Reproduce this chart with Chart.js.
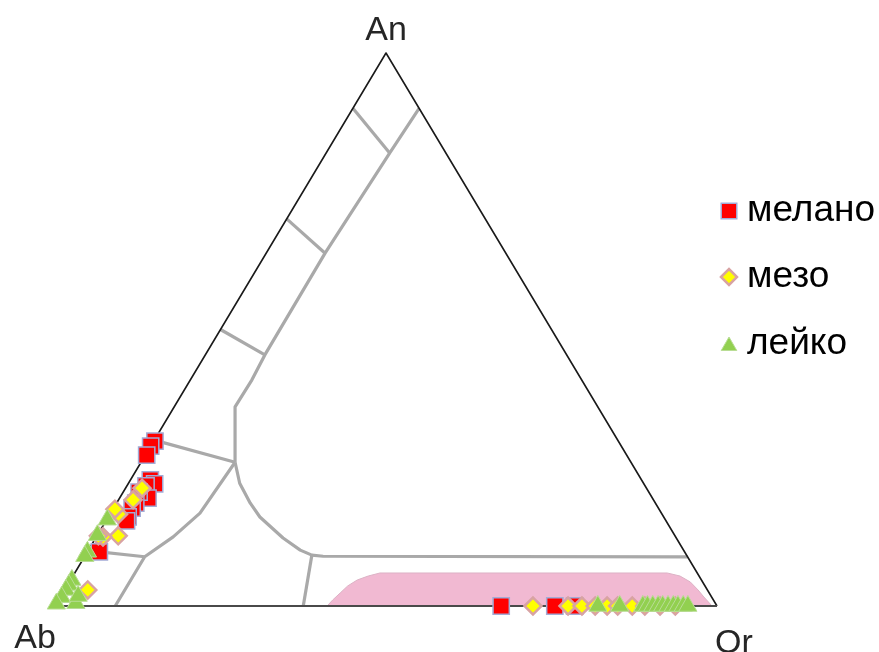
<!DOCTYPE html>
<html>
<head>
<meta charset="utf-8">
<script src="https://cdn.jsdelivr.net/npm/chart.js@4/dist/chart.umd.min.js"></script>
<style>
  html, body { margin: 0; padding: 0; background: #ffffff; }
  canvas { display: block; }
</style>
</head>
<body>
<canvas id="chart" width="879" height="652"></canvas>
<script>
// Vertex labels of the An–Ab–Or feldspar triangle
const vertexLabels = ['An', 'Ab', 'Or'];
const seriesNames = ['мелано', 'мезо', 'лейко'];

// Compositions, mol %: An and Or of each analysis (Ab = 100 - An - Or)
const melanoAn = [29.8, 28.9, 27.3, 22.8, 22.1, 21.7, 19.5, 20.6, 18.6, 17.7, 16.1, 15.4, 9.8, 0, 0, 0];
const melanoOr = [0.2, 0.0, 0.2, 3.0, 4.0, 2.9, 4.3, 2.4, 2.9, 2.8, 3.0, 3.1, 1.8, 67.4, 75.5, 78.5];

const mezoAn = [21.3, 19.2, 16.6, 17.5, 12.7, 12.5, 12.7, 2.9, 0, 0, 0, 0, 0, 0, 0, 0, 0, 0];
const mezoOr = [2.5, 2.2, 1.3, 0.3, 3.2, 1.0, 0.2, 3.5, 72.2, 77.5, 79.6, 81.6, 83.4, 85.0, 87.2, 89.1, 91.4, 93.7];

const leikoAn = [15.6, 12.8, 9.8, 9.0, 4.7, 3.8, 2.9, 1.6, 0.4, 0.5, 1.8, 0, 0, 0, 0, 0, 0, 0, 0, 0, 0, 0, 0];
const leikoOr = [0.1, 0.0, 0.0, 0.0, 0.2, 0.2, 0.2, 0.2, 0.0, 2.9, 2.6, 82.0, 85.3, 88.8, 89.5, 90.3, 91.1, 91.8, 92.6, 93.4, 94.1, 94.9, 95.6];

// Field boundaries of the classification, as [An, Or] vertices
const boundaryLines = [
  [[90, 0], [81.9, 9.6]],
  [[90, 10], [81.9, 9.6], [63.8, 8.9], [45.4, 9.0], [40.9, 9.3], [36.0, 9.2], [26.0, 14.2]],
  [[70, 0], [63.8, 8.9]],
  [[50, 0], [45.4, 9.0]],
  [[30, 0], [26.0, 14.2]],
  [[26.0, 14.2], [16.8, 13.5], [12.5, 11.6], [8.9, 9.1], [0, 9.1]],
  [[10, 0], [8.9, 9.1]],
  [[26.0, 14.2], [22.2, 16.8], [18.6, 20.2], [16.1, 22.9], [12.3, 28.3], [10.1, 32.0], [9.2, 34.2], [9.0, 36.0], [8.9, 91.1]],
  [[9.2, 34.2], [0, 37.5]]
];

// Shaded alkali-feldspar field outline, [An, Or]
const shadedField = [
  [0, 41.1], [1.08, 41.4], [2.35, 41.9], [3.62, 42.4], [4.7, 43.3], [5.42, 44.6], [5.97, 46.1],
  [5.97, 89.5], [5.42, 91.7], [4.34, 93.8], [2.89, 95.7], [1.63, 97.2], [0.36, 98.8], [0, 99.2]
];

// Ternary (An, Or) -> plane coordinates used by the linear scales
const toXY = (an, or) => ({ x: or + an / 2, y: an });
const toPoints = (an, or) => an.map((a, i) => toXY(a, or[i]));

const markerSizes = [11.5, 8.5, 10.5];
const legendSizes = [11, 8, 9];

const ternaryFrame = {
  id: 'ternaryFrame',
  beforeDatasetsDraw(chart) {
    const { ctx, scales: { x, y } } = chart;
    const px = (an, or) => {
      const p = toXY(an, or);
      return [x.getPixelForValue(p.x), y.getPixelForValue(p.y)];
    };
    ctx.save();
    // shaded field
    ctx.beginPath();
    shadedField.forEach(([an, or], i) => {
      const [u, v] = px(an, or);
      if (i === 0) ctx.moveTo(u, v); else ctx.lineTo(u, v);
    });
    ctx.closePath();
    ctx.fillStyle = '#f1b9d2';
    ctx.fill();
    ctx.strokeStyle = '#dcb2c5';
    ctx.lineWidth = 1;
    ctx.stroke();

    // boundaries
    ctx.strokeStyle = '#a9a9a9';
    ctx.lineWidth = 3.2;
    ctx.lineJoin = 'round';
    ctx.lineCap = 'butt';
    boundaryLines.forEach(line => {
      ctx.beginPath();
      line.forEach(([an, or], i) => {
        const [u, v] = px(an, or);
        if (i === 0) ctx.moveTo(u, v); else ctx.lineTo(u, v);
      });
      ctx.stroke();
    });

    // triangle edges
    const top = px(100, 0), left = px(0, 0), right = px(0, 100);
    ctx.strokeStyle = '#1a1a1a';
    ctx.lineWidth = 1.6;
    ctx.beginPath();
    ctx.moveTo(left[0], left[1]);
    ctx.lineTo(top[0], top[1]);
    ctx.lineTo(right[0], right[1]);
    ctx.stroke();
    ctx.strokeStyle = '#4a4a4a';
    ctx.lineWidth = 2;
    ctx.beginPath();
    ctx.moveTo(left[0], left[1]);
    ctx.lineTo(right[0], right[1]);
    ctx.stroke();
    ctx.restore();
  },
  afterDraw(chart) {
    const { ctx, scales: { x, y } } = chart;
    const px = (an, or) => {
      const p = toXY(an, or);
      return [x.getPixelForValue(p.x), y.getPixelForValue(p.y)];
    };
    ctx.save();
    ctx.fillStyle = '#262626';
    ctx.font = '34px "Liberation Sans", Arial, sans-serif';
    ctx.textAlign = 'center';
    ctx.textBaseline = 'alphabetic';
    const top = px(100, 0), left = px(0, 0), right = px(0, 100);
    ctx.fillText(vertexLabels[0], top[0], top[1] - 13);
    ctx.fillText(vertexLabels[1], left[0] - 20, left[1] + 42);
    ctx.fillText(vertexLabels[2], right[0] + 17, right[1] + 47);

    // legend
    const legendX = 729, textX = 747;
    const legendY = [211, 277, 344];
    chart.data.datasets.forEach((ds, i) => {
      ctx.save();
      ctx.fillStyle = ds.backgroundColor;
      ctx.strokeStyle = ds.borderColor;
      ctx.lineWidth = ds.borderWidth;
      Chart.helpers.drawPoint(ctx, {
        pointStyle: ds.pointStyle,
        radius: legendSizes[i],
        borderWidth: ds.borderWidth,
        rotation: 0
      }, legendX, legendY[i] + (ds.pointStyle === 'triangle' ? 2 : 0));
      ctx.restore();
      ctx.fillStyle = '#000000';
      ctx.font = '37px "Liberation Sans", Arial, sans-serif';
      ctx.textAlign = 'left';
      ctx.textBaseline = 'middle';
      ctx.fillText(ds.label, textX, legendY[i]);
    });
    ctx.restore();
  }
};

new Chart(document.getElementById('chart'), {
  type: 'scatter',
  data: {
    datasets: [
      {
        label: seriesNames[0],
        data: toPoints(melanoAn, melanoOr),
        pointStyle: 'rect',
        pointRadius: markerSizes[0],
        backgroundColor: '#ff0000',
        borderColor: '#a3abd6',
        borderWidth: 1.5,
        order: 3,
        clip: false
      },
      {
        label: seriesNames[1],
        data: toPoints(mezoAn, mezoOr),
        pointStyle: 'rectRot',
        pointRadius: markerSizes[1],
        backgroundColor: '#ffff00',
        borderColor: '#d8a3a3',
        borderWidth: 2.5,
        order: 2,
        clip: false
      },
      {
        label: seriesNames[2],
        data: toPoints(leikoAn, leikoOr),
        pointStyle: 'triangle',
        pointRadius: markerSizes[2],
        backgroundColor: '#92d050',
        borderColor: '#b9dd95',
        borderWidth: 1,
        order: 1,
        clip: false
      }
    ]
  },
  options: {
    responsive: false,
    animation: false,
    devicePixelRatio: 1,
    layout: { padding: { left: 55, right: 162, top: 53, bottom: 46 } },
    scales: {
      x: { type: 'linear', min: 0, max: 100, display: false },
      y: { type: 'linear', min: 0, max: 100, display: false }
    },
    plugins: {
      legend: { display: false },
      tooltip: { enabled: false }
    },
    elements: { point: { hoverRadius: 0 } }
  },
  plugins: [ternaryFrame]
});
</script>
</body>
</html>
